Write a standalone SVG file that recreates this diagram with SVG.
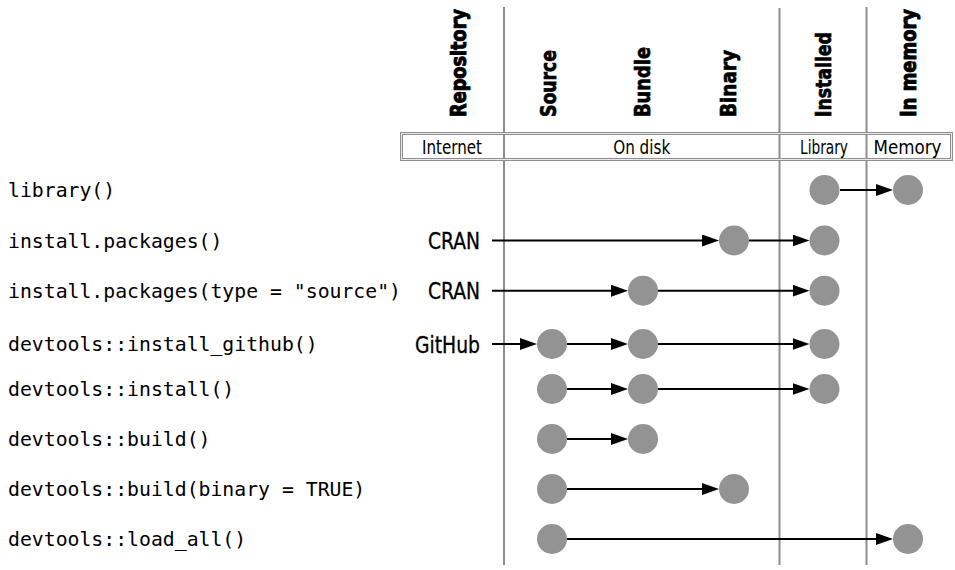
<svg xmlns="http://www.w3.org/2000/svg" width="955" height="570" viewBox="0 0 955 570">
<defs>
<style>
.grid{stroke:#8e8e8e;stroke-width:2;fill:none}
.box{fill:none;stroke:#8e8e8e;stroke-width:3}
.boxin{fill:none;stroke:#ffffff;stroke-width:0.8}
.hdr{font-family:"DejaVu Sans Condensed","DejaVu Sans","Liberation Sans",sans-serif;font-stretch:condensed;font-weight:bold;font-size:22px;fill:#000;stroke:#000;stroke-width:0.7}
.hdr2{font-size:20.5px;stroke-width:0.9}
.cat{font-family:"DejaVu Sans Condensed","DejaVu Sans","Liberation Sans",sans-serif;font-stretch:condensed;font-size:20px;fill:#000;text-anchor:middle}
.src{font-family:"DejaVu Sans Condensed","DejaVu Sans","Liberation Sans",sans-serif;font-stretch:condensed;font-size:23px;fill:#000;text-anchor:end;stroke:#000;stroke-width:0.3}
.code{font-family:"DejaVu Sans Mono","Liberation Mono",monospace;font-size:19.8px;fill:#000}
.node{fill:#939393}
.edge{stroke:#000;stroke-width:2;fill:none;marker-end:url(#ah)}
</style>
<marker id="ah" markerUnits="userSpaceOnUse" markerWidth="18" markerHeight="12" refX="9" refY="6" orient="auto">
<path d="M0,0 L17,6 L0,12 Z" fill="#000"/>
</marker>
</defs>
<rect width="955" height="570" fill="#fff"/>
<g id="grid">
<line class="grid" x1="504" y1="7" x2="504" y2="565"/>
<line class="grid" x1="779.5" y1="8" x2="779.5" y2="565"/>
<line class="grid" x1="866.5" y1="7" x2="866.5" y2="565"/>
<rect class="box" x="401.5" y="133.5" width="550" height="26"/>
<rect class="boxin" x="401.5" y="133.5" width="550" height="26"/>
</g>
<g id="headers">
<text class="hdr hdr2" transform="translate(466,117) rotate(-90)" textLength="108" lengthAdjust="spacingAndGlyphs">Repository</text>
<text class="hdr" transform="translate(555.5,117) rotate(-90)" textLength="67" lengthAdjust="spacingAndGlyphs">Source</text>
<text class="hdr" transform="translate(650,117) rotate(-90)" textLength="70" lengthAdjust="spacingAndGlyphs">Bundle</text>
<text class="hdr" transform="translate(736,117) rotate(-90)" textLength="67" lengthAdjust="spacingAndGlyphs">Binary</text>
<text class="hdr" transform="translate(831,117) rotate(-90)" textLength="85" lengthAdjust="spacingAndGlyphs">Installed</text>
<text class="hdr hdr2" transform="translate(916,117) rotate(-90)" textLength="108" lengthAdjust="spacingAndGlyphs">In memory</text>
</g>
<g id="categories">
<text class="cat" x="452" y="154" textLength="60" lengthAdjust="spacingAndGlyphs">Internet</text>
<text class="cat" x="641.7" y="154" textLength="57" lengthAdjust="spacingAndGlyphs">On disk</text>
<text class="cat" x="824" y="154" textLength="48" lengthAdjust="spacingAndGlyphs">Library</text>
<text class="cat" x="907.5" y="154" textLength="68" lengthAdjust="spacingAndGlyphs">Memory</text>
</g>
<g id="labels">
<text class="code" x="8" y="197">library()</text>
<text class="code" x="8" y="247.5">install.packages()</text>
<text class="code" x="8" y="297.5">install.packages(type = "source")</text>
<text class="code" x="8" y="351">devtools::install_github()</text>
<text class="code" x="8" y="396">devtools::install()</text>
<text class="code" x="8" y="446">devtools::build()</text>
<text class="code" x="8" y="496">devtools::build(binary = TRUE)</text>
<text class="code" x="8" y="546">devtools::load_all()</text>
<text class="src" x="480" y="249" textLength="52" lengthAdjust="spacingAndGlyphs">CRAN</text>
<text class="src" x="480" y="299" textLength="52" lengthAdjust="spacingAndGlyphs">CRAN</text>
<text class="src" x="480" y="352.5" textLength="65" lengthAdjust="spacingAndGlyphs">GitHub</text>
</g>
<g id="connectors">
<line class="edge" x1="840" y1="190" x2="885" y2="190"/>
<line class="edge" x1="492" y1="240.5" x2="711" y2="240.5"/>
<line class="edge" x1="749" y1="240.5" x2="801.5" y2="240.5"/>
<line class="edge" x1="492" y1="290.7" x2="620" y2="290.7"/>
<line class="edge" x1="658" y1="290.7" x2="801.5" y2="290.7"/>
<line class="edge" x1="492" y1="344" x2="529" y2="344"/>
<line class="edge" x1="567" y1="344" x2="620" y2="344"/>
<line class="edge" x1="658" y1="344" x2="801.5" y2="344"/>
<line class="edge" x1="567" y1="389" x2="620" y2="389"/>
<line class="edge" x1="658" y1="389" x2="801.5" y2="389"/>
<line class="edge" x1="567" y1="439" x2="620" y2="439"/>
<line class="edge" x1="567" y1="489" x2="711" y2="489"/>
<line class="edge" x1="567" y1="539" x2="885" y2="539"/>
</g>
<g id="row1"><circle class="node" cx="824.5" cy="190" r="15"/><circle class="node" cx="908" cy="190" r="15"/></g>
<g id="row2"><circle class="node" cx="734" cy="240.5" r="15"/><circle class="node" cx="824.5" cy="240.5" r="15"/></g>
<g id="row3"><circle class="node" cx="643" cy="290.7" r="15"/><circle class="node" cx="824.5" cy="290.7" r="15"/></g>
<g id="row4"><circle class="node" cx="552" cy="344" r="15"/><circle class="node" cx="643" cy="344" r="15"/><circle class="node" cx="824.5" cy="344" r="15"/></g>
<g id="row5"><circle class="node" cx="552" cy="389" r="15"/><circle class="node" cx="643" cy="389" r="15"/><circle class="node" cx="824.5" cy="389" r="15"/></g>
<g id="row6"><circle class="node" cx="552" cy="439" r="15"/><circle class="node" cx="643" cy="439" r="15"/></g>
<g id="row7"><circle class="node" cx="552" cy="489" r="15"/><circle class="node" cx="734" cy="489" r="15"/></g>
<g id="row8"><circle class="node" cx="552" cy="539" r="15"/><circle class="node" cx="908" cy="539" r="15"/></g>
</svg>
